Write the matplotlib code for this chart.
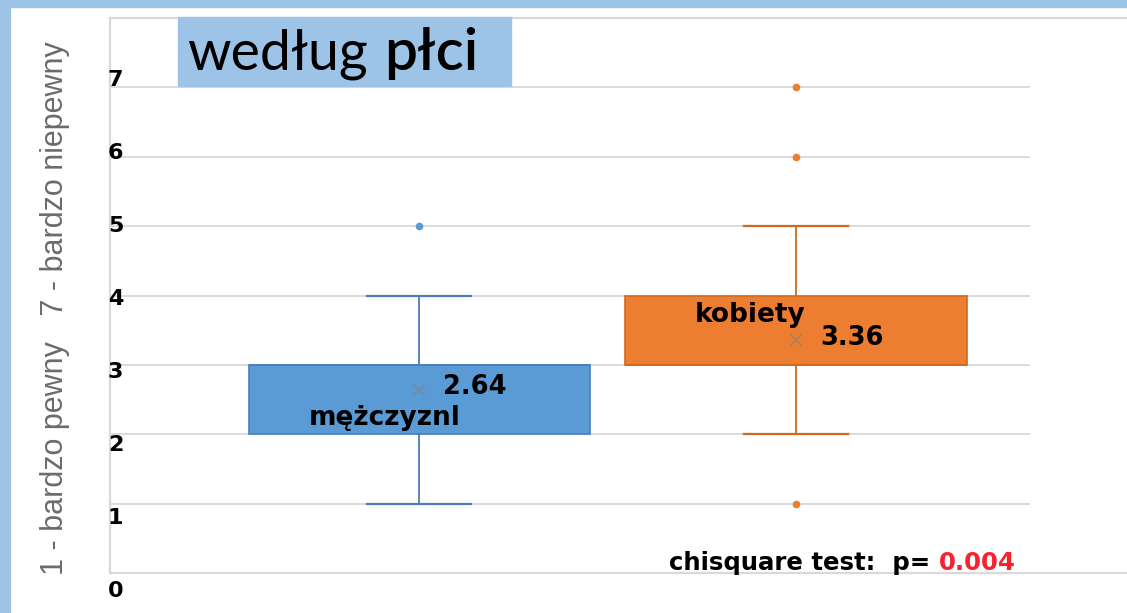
import matplotlib.pyplot as plt
from matplotlib.patches import Rectangle
from matplotlib.transforms import blended_transform_factory

# box statistics (scale 1-7)
groups = ['mężczyznl', 'kobiety']
q1 = [2, 3]
medians = [3, 3]
q3 = [3, 4]
whisk_lo = [1, 2]
whisk_hi = [4, 5]
means = [2.64, 3.36]
outliers = [[5], [1, 6, 7]]
y_ticks = [0, 1, 2, 3, 4, 5, 6, 7]
p_value = '0.004'

fills = ['#5B9BD5', '#ED7D31']
edges = ['#4A7EBB', '#D0691F']
band = '#9DC3E6'
grid = '#D9D9D9'

W, H = 1127, 613
fig = plt.figure(figsize=(W / 100, H / 100), dpi=100)

# slide decoration: blue bands and title box
fig.patches.append(Rectangle((0, 0), 10 / W, 1, transform=fig.transFigure,
                             color=band, zorder=0))
fig.patches.append(Rectangle((0, 1 - 7 / H), 1, 7 / H, transform=fig.transFigure,
                             color=band, zorder=0))
fig.patches.append(Rectangle((178 / W, 1 - 86 / H), 333 / W, 69 / H,
                             transform=fig.transFigure, color=band, zorder=3))

fig.text(187 / W, 1 - 70 / H, 'według', fontsize=40, family='Lato',
         fontweight='normal', va='baseline', ha='left', zorder=5)
fig.text(384 / W, 1 - 70 / H, 'płci', fontsize=42, family='Lato',
         fontweight='semibold', va='baseline', ha='left', zorder=5)

fig.text(55 / W, 1 - 308 / H, '1 - bardzo pewny   7 - bardzo niepewny',
         rotation=90, ha='center', va='center', fontsize=22, color='#6B6B6B',
         family=['Liberation Sans Narrow', 'Liberation Sans'])

ax = fig.add_axes([110 / W, 40 / H, 1017 / W, 555 / H])
ax.set_xlim(0.18, 2.878)
ax.set_ylim(0, 8)

for v in y_ticks[1:]:
    ax.axhline(v, xmax=919 / 1017, color=grid, lw=1.3, zorder=0)

for i in range(len(groups)):
    stats = dict(q1=q1[i], med=medians[i], q3=q3[i], whislo=whisk_lo[i],
                 whishi=whisk_hi[i], mean=means[i], fliers=outliers[i])
    ax.bxp([stats], positions=[i + 1], widths=0.905, capwidths=0.276,
           showmeans=True, patch_artist=True,
           boxprops=dict(facecolor=fills[i], edgecolor=edges[i], lw=1.2),
           whiskerprops=dict(color=edges[i], lw=1.3),
           capprops=dict(color=edges[i], lw=1.6),
           medianprops=dict(color=edges[i], lw=1.2),
           meanprops=dict(marker='x', markeredgecolor='#808080', markersize=9,
                          markeredgewidth=1.2, alpha=0.6),
           flierprops=dict(marker='o', markerfacecolor=fills[i],
                           markeredgecolor='none', markersize=5.5))

ax.text(0.706, 2.13, groups[0], fontsize=19, fontweight='bold', va='baseline')
ax.text(1.064, 2.58, f'{means[0]:.2f}', fontsize=18.5, fontweight='bold', va='baseline')
ax.text(1.732, 3.62, groups[1], fontsize=19, fontweight='bold', va='baseline')
ax.text(2.064, 3.285, f'{means[1]:.2f}', fontsize=18.5, fontweight='bold', va='baseline')

for s in ['top', 'bottom', 'left']:
    ax.spines[s].set_color(grid)
    ax.spines[s].set_linewidth(1.6)
ax.spines['right'].set_visible(False)
ax.set_xticks([])
ax.set_yticks([])

# tick labels sit slightly stretched against the grid in the screenshot
tr = blended_transform_factory(ax.transAxes, ax.transData)
for v in y_ticks:
    ax.text(-0.002, v * 1.0514 - 0.26, str(v), transform=tr, ha='left',
            va='center', fontsize=16, fontweight='bold')

chi = ax.text(0.5497, 0.043, 'chisquare test:  p= ', transform=tr, fontsize=17.6,
              fontweight='bold', va='baseline', ha='left')
fig.canvas.draw()
bb = chi.get_window_extent()
x_red = ax.transAxes.inverted().transform((bb.x1, bb.y0))[0]
ax.text(x_red, 0.043, p_value, transform=tr, va='baseline', ha='left',
        fontsize=17.6, fontweight='bold', color='#F4232F')

fig.savefig('out.png', dpi=100)
